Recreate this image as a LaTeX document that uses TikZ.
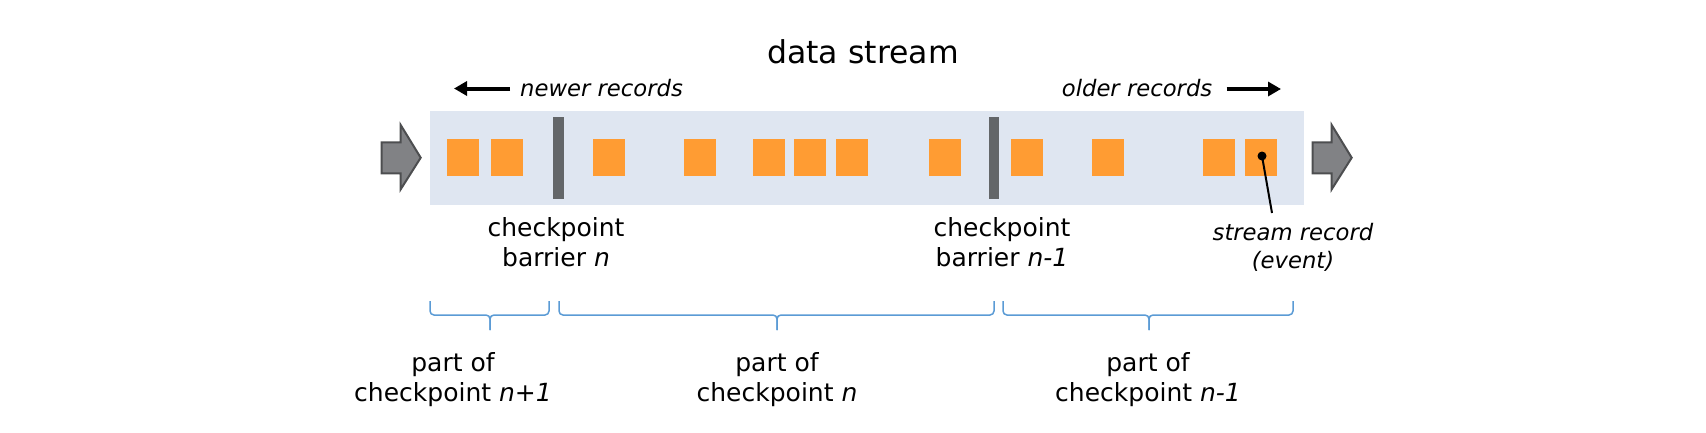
\documentclass[tikz,border=0pt]{standalone}
\usepackage{fontspec}
\setmainfont{DejaVu Sans}
\usetikzlibrary{arrows.meta}
\definecolor{bandcol}{HTML}{DFE6F1}
\definecolor{reccol}{HTML}{FF9C33}
\definecolor{barcol}{HTML}{636669}
\definecolor{bigfill}{HTML}{818285}
\definecolor{bigdraw}{HTML}{4D4E50}
\definecolor{bracecol}{HTML}{5B9BD5}
\tikzset{
  band/.style={fill=bandcol, draw=none, minimum width=874pt, minimum height=94pt, inner sep=0pt},
  record/.style={fill=reccol, draw=none, minimum width=32pt, minimum height=37pt, inner sep=0pt},
  barrier/.style={fill=barcol, draw=none, minimum width=10.5pt, minimum height=82pt, inner sep=0pt},
  bigarrow/.style={fill=bigfill, draw=bigdraw, line width=2pt, line join=miter},
  smallarrow/.style={line width=4pt, -{Triangle[length=13pt,width=14pt]}},
  lbl/.style={font=\fontsize{25}{30}\selectfont, align=center, inner sep=0pt},
  ital/.style={font=\fontsize{22.7}{28}\selectfont\itshape, inner sep=0pt},
  bracestyle/.style={draw=bracecol, line width=1.5pt, rounded corners=4pt},
  leader/.style={line width=2pt}
}
\begin{document}
\begin{tikzpicture}[x=1pt,y=-1pt]
\useasboundingbox (0,0) rectangle (1706,432);
% title and direction hints
\node[font=\fontsize{31.5}{38}\selectfont, inner sep=0pt, anchor=base] (title) at (863,63.3) {data stream};
\node[ital, anchor=base west] (newer) at (520,96.7) {newer records};
\node[ital, anchor=base west] (older) at (1061.7,96.7) {older records};
\coordinate (nA) at (510,88.5);
\coordinate (nB) at (454,88.5);
\coordinate (oA) at (1226.7,89);
\coordinate (oB) at (1281,89);
\draw[smallarrow] (nA) -- (nB);
\draw[smallarrow] (oA) -- (oB);
% band
\node[band] (band) at (867,158) {};
% big arrows
\draw[bigarrow] (381.7,142.3) -- (400.7,142.3) -- (400.7,125) -- (420.7,157.7) -- (400.7,189.3) -- (400.7,173.3) -- (381.7,173.3) -- cycle;
\draw[bigarrow] (1312.7,142.3) -- (1331.7,142.3) -- (1331.7,125) -- (1351.7,157.7) -- (1331.7,189.3) -- (1331.7,173.3) -- (1312.7,173.3) -- cycle;
% records
\foreach \i/\x in {1/447,2/491,3/593,4/684,5/753,6/794,7/836,8/929,9/1011,10/1092,11/1203,12/1245}{
  \node[record, anchor=north west] (r\i) at (\x,139) {};
}
% barriers
\node[barrier] (b1) at (558.7,157.5) {};
\node[barrier] (b2) at (994,157.5) {};
% barrier labels (base = last line's baseline)
\node[lbl, anchor=base] (lb1) at (556,266.7) {checkpoint\\barrier \textit{n}};
\node[lbl, anchor=base] (lb2) at (1002,266.7) {checkpoint\\barrier \textit{n-1}};
% stream record label
\node[ital, align=center, anchor=base] (srl) at (1293,268) {stream record\\(event)};
\coordinate (dot) at (1262,156);
\coordinate (leadend) at (1272,213);
\draw[leader] (dot) -- (leadend);
\fill (dot) circle (4.5pt);
% braces
\draw[bracestyle] (430,301) -- (430,315) -- (490,315) -- (490,330);
\draw[bracestyle] (549,301) -- (549,315) -- (490,315) -- (490,330);
\draw[bracestyle] (559,301) -- (559,315) -- (777,315) -- (777,330);
\draw[bracestyle] (994,301) -- (994,315) -- (777,315) -- (777,330);
\draw[bracestyle] (1003,301) -- (1003,315) -- (1149,315) -- (1149,330);
\draw[bracestyle] (1293,301) -- (1293,315) -- (1149,315) -- (1149,330);
% part labels
\node[lbl, anchor=base] (p1) at (453,401.7) {part of\\checkpoint \textit{n+1}};
\node[lbl, anchor=base] (p2) at (777,401.7) {part of\\checkpoint \textit{n}};
\node[lbl, anchor=base] (p3) at (1148,401.7) {part of\\checkpoint \textit{n-1}};
\end{tikzpicture}
\end{document}
